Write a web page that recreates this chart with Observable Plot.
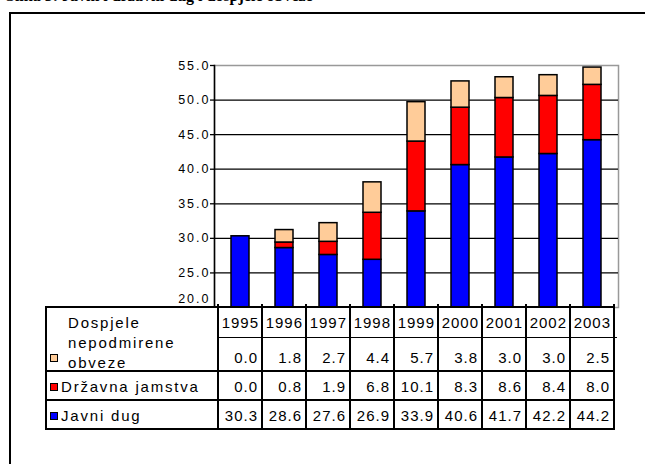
<!DOCTYPE html>
<html>
<head>
<meta charset="utf-8">
<script src="https://cdn.jsdelivr.net/npm/d3@7"></script>
<script src="https://cdn.jsdelivr.net/npm/@observablehq/plot@0.6"></script>
<style>
  html, body { margin: 0; padding: 0; width: 645px; height: 464px; overflow: hidden; background: #fff; }
  #root { position: relative; width: 645px; height: 464px; overflow: hidden; font-family: "Liberation Sans", Arial, sans-serif; }
  #title { position: absolute; left: 6px; top: -12px; font: bold 16px/16px "Liberation Serif", "Times New Roman", serif; white-space: nowrap; color: #000; }
  #outer { position: absolute; left: 9px; top: 12px; width: 700px; height: 520px; border: 2px solid #000; box-sizing: border-box; }
  #chart { position: absolute; left: 0; top: 0; }
  .t { position: absolute; white-space: nowrap; color: #000; height: 20px; line-height: 20px; }
  .ln { position: absolute; background: #000; }
  .sq { position: absolute; width: 8px; height: 8px; box-sizing: border-box; border: 1.3px solid #000; }
</style>
</head>
<body>
<div id="root">
  <div id="title">Slika 3: Javni i državni dug i dospjele obveze</div>
  <div id="outer"></div>
  <div id="chart"></div>
</div>
<script>
// ---- data ----
const years = ["1995", "1996", "1997", "1998", "1999", "2000", "2001", "2002", "2003"];
const javniDug = [30.3, 28.6, 27.6, 26.9, 33.9, 40.6, 41.7, 42.2, 44.2];
const drzavnaJamstva = [0.0, 0.8, 1.9, 6.8, 10.1, 8.3, 8.6, 8.4, 8.0];
const dospjeleObveze = [0.0, 1.8, 2.7, 4.4, 5.7, 3.8, 3.0, 3.0, 2.5];
const seriesNames = ["Javni dug", "Državna jamstva", "Dospjele nepodmirene obveze"];
const seriesColors = ["#0000FF", "#FF0000", "#FFCC99"];
const yTicks = [20, 25, 30, 35, 40, 45, 50, 55];
const gridValues = [25, 30, 35, 40, 45, 50];
// table rows, top to bottom
const tableRows = [
  {lines: ["Dospjele", "nepodmirene", "obveze"], values: dospjeleObveze, color: seriesColors[2]},
  {lines: ["Državna jamstva"], values: drzavnaJamstva, color: seriesColors[1]},
  {lines: ["Javni dug"], values: javniDug, color: seriesColors[0]}
];

const seriesValues = [javniDug, drzavnaJamstva, dospjeleObveze];
const data = [];
years.forEach((y, i) => {
  seriesNames.forEach((s, j) => {
    if (seriesValues[j][i] > 0) data.push({year: y, series: s, value: seriesValues[j][i]});
  });
});

const fmt = d3.format(".1f");
const plot = Plot.plot({
  width: 645,
  height: 308,
  marginLeft: 214,
  marginRight: 27,
  marginTop: 65,
  marginBottom: 1,
  style: {fontFamily: "'Liberation Sans', Arial, sans-serif", fontSize: "12.5px", color: "#000", background: "transparent", overflow: "visible", letterSpacing: "2px"},
  x: {domain: years, padding: 0, axis: null},
  y: {domain: [20, 55], axis: null},
  color: {domain: seriesNames, range: seriesColors},
  marks: [
    Plot.frame({stroke: "#999", strokeWidth: 1.5}),
    Plot.ruleY(gridValues, {stroke: "#000", strokeWidth: 1.3}),
    Plot.barY(data, {x: "year", y: "value", fill: "series", stroke: "#000", strokeWidth: 1.5, insetLeft: 13, insetRight: 13, clip: true, order: seriesNames}),
    Plot.frame({anchor: "left", stroke: "#000", strokeWidth: 1.5}),
    Plot.axisY({ticks: yTicks.slice(1), tickFormat: fmt, tickSize: 4, tickPadding: 0, label: null, strokeWidth: 1.3}),
    Plot.axisY({ticks: yTicks.slice(0, 1), tickFormat: fmt, tickSize: 4, tickPadding: 0, label: null, dy: -9, strokeOpacity: 0})
  ]
});
document.getElementById("chart").appendChild(plot);

// ---- data table beneath, aligned to the x scale ----
const root = document.getElementById("root");
const xs = plot.scale("x");
const ys = plot.scale("y");
const step = xs.step;
const colLeft = years.map(y => xs.apply(y));
const x0 = colLeft[0];
const x1 = colLeft[colLeft.length - 1] + step;
const tableLeft = 46;
const top0 = ys.apply(20);
const edges = [0, 30.5, 64, 93, 122].map(d => top0 + d);
const lw = 1.6;

function line(x, y, w, h) {
  const d = document.createElement("div");
  d.className = "ln";
  Object.assign(d.style, {left: x + "px", top: y + "px", width: w + "px", height: h + "px"});
  root.appendChild(d);
}
function text(str, opts) {
  const d = document.createElement("div");
  d.className = "t";
  d.textContent = str;
  d.style.fontSize = (opts.size || 15) + "px";
  d.style.letterSpacing = (opts.ls ?? 1) + "px";
  d.style.top = (opts.cy - 10) + "px";
  if (opts.right != null) {
    d.style.left = (opts.right - 80) + "px";
    d.style.width = "80px";
    d.style.textAlign = "right";
  } else {
    d.style.left = opts.left + "px";
  }
  root.appendChild(d);
}

// white background for table area
const bg = document.createElement("div");
Object.assign(bg.style, {position: "absolute", left: tableLeft + "px", top: edges[0] + "px", width: (x1 - tableLeft) + "px", height: (edges[4] - edges[0]) + "px", background: "#fff"});
root.appendChild(bg);

// horizontal lines
line(tableLeft - lw / 2, edges[0] - lw / 2, x1 - tableLeft + lw, lw);
line(x0, edges[1] - lw / 2, x1 - x0 + lw / 2 + 2, lw);
for (let i = 2; i < edges.length; i++) line(tableLeft - lw / 2, edges[i] - lw / 2, x1 - tableLeft + lw, lw);
// vertical lines
line(tableLeft - lw / 2, edges[0] - lw / 2, lw, edges[4] - edges[0] + lw);
for (let i = 0; i <= years.length; i++) {
  const xx = x0 + i * step;
  line(xx - lw / 2, edges[0] - 3, lw, edges[4] - edges[0] + 3 + lw / 2);
}

// header: years
years.forEach((y, i) => text(y, {right: colLeft[i] + step - 3, cy: (edges[0] + edges[1]) / 2 + 1, ls: 1}));

// rows
tableRows.forEach((row, r) => {
  const bottom = edges[r + 2];
  const cy = bottom - 13;
  row.values.forEach((v, i) => text(fmt(v), {right: colLeft[i] + step - 4, cy, ls: 1}));
  const sq = document.createElement("div");
  sq.className = "sq";
  Object.assign(sq.style, {left: "50px", top: (cy - 4) + "px", background: row.color});
  root.appendChild(sq);
  if (row.lines.length === 1) {
    text(row.lines[0], {left: 61, cy, ls: 1.8});
  } else {
    row.lines.forEach((ln, k) => text(ln, {left: 68, cy: cy + 5 - (row.lines.length - 1 - k) * 20, ls: 1.8}));
  }
});
</script>
</body>
</html>
